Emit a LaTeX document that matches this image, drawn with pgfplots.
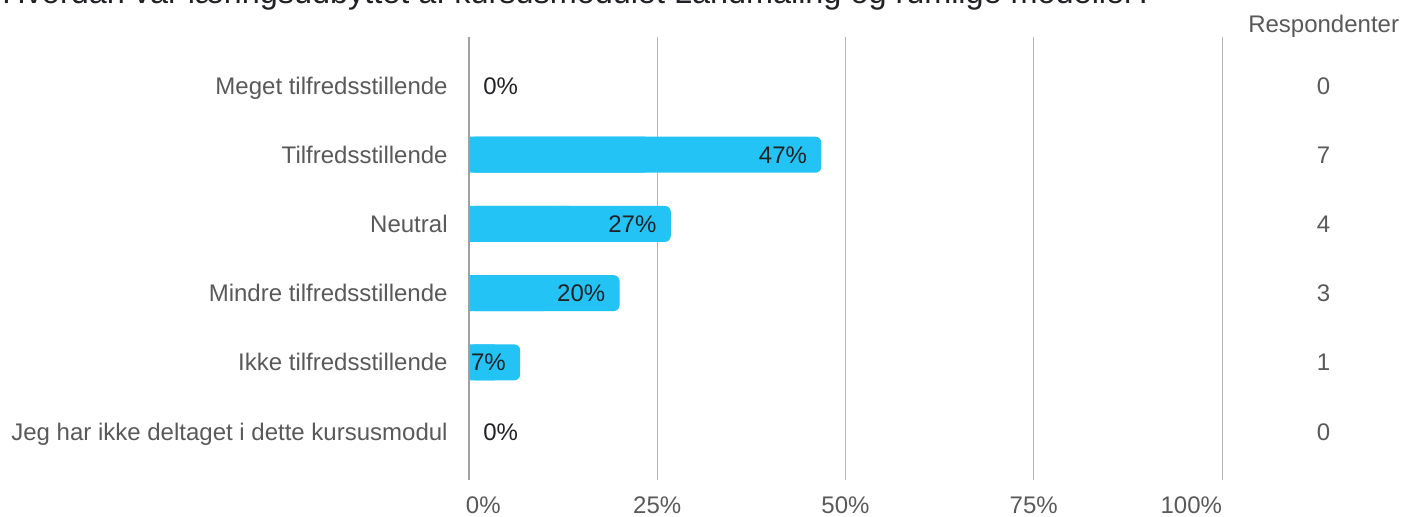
\documentclass[border=0pt]{standalone}
\usepackage{pgfplots}
\pgfplotsset{compat=1.18}
\usepackage{fontspec}
\setmainfont{Liberation Sans}
\definecolor{barc}{RGB}{35,196,245}
\definecolor{lab}{HTML}{595959}
\definecolor{txt}{HTML}{202124}
\definecolor{gridc}{HTML}{B4B4B4}
\definecolor{axc}{HTML}{A0A0A0}
\begin{document}
\begin{tikzpicture}
\begin{axis}[
  scale only axis,
  width=376.5pt, height=221.5pt,
  xmin=0, xmax=100, ymin=-0.7, ymax=5.7,
  y dir=reverse,
  clip=false,
  axis line style={draw=none},
  major tick length=0pt,
  xtick={0,25,50,75,100},
  xticklabels={\makebox[0pt][l]{\hspace{-1.5pt}0\%},25\%,50\%,75\%,\makebox[0pt][r]{100\%}},
  xmajorgrids,
  grid style={gridc, line width=0.5pt},
  ytick={0,1,2,3,4,5},
  yticklabels={Meget tilfredsstillende,Tilfredsstillende,Neutral,Mindre tilfredsstillende,Ikke tilfredsstillende,Jeg har ikke deltaget i dette kursusmodul},
  yticklabel style={anchor=base east, inner sep=0pt, xshift=-10.5pt, yshift=-4.3pt, font=\fontsize{12pt}{14pt}\selectfont, text=lab},
  xticklabel style={anchor=base, inner sep=0pt, yshift=-16.5pt, font=\fontsize{12pt}{14pt}\selectfont, text=lab},
  /pgf/number format/assume math mode=true,
]
% bars (rounded right ends)
\addplot[xbar, bar width=18pt, fill=barc, draw=none, rounded corners=3pt] coordinates {(46.8,1) (26.8,2) (20,3) (6.8,4)};
\addplot[xbar, bar width=18pt, fill=barc, draw=none] coordinates {(23.4,1) (13.4,2) (10,3) (3.4,4)};
% value labels inside bars
\addplot[draw=none, mark=none, point meta=explicit symbolic, nodes near coords,
  nodes near coords style={anchor=base east, inner sep=0pt, xshift=-7pt, yshift=-4.3pt, font=\fontsize{12pt}{14pt}\selectfont, text=txt}]
  coordinates {(46.8,1) [47\%] (26.8,2) [27\%] (20,3) [20\%] (6.8,4) [7\%]};
\addplot[draw=none, mark=none, point meta=explicit symbolic, nodes near coords,
  nodes near coords style={anchor=base west, inner sep=0pt, xshift=7pt, yshift=-4.3pt, font=\fontsize{12pt}{14pt}\selectfont, text=txt}]
  coordinates {(0,0) [0\%] (0,5) [0\%]};
% respondent counts
\addplot[draw=none, mark=none, point meta=explicit symbolic, nodes near coords,
  nodes near coords style={anchor=base, inner sep=0pt, yshift=-4.3pt, font=\fontsize{12pt}{14pt}\selectfont, text=lab}]
  coordinates {(113.5,0) [0] (113.5,1) [7] (113.5,2) [4] (113.5,3) [3] (113.5,4) [1] (113.5,5) [0]};
\draw[axc, line width=1pt] (axis cs:0,-0.7) -- (axis cs:0,5.7);
\node[anchor=base, inner sep=0pt, font=\fontsize{12pt}{14pt}\selectfont, text=lab] at (axis cs:113.5,-0.772) {Respondenter};
\end{axis}
\node[anchor=base west, inner sep=0pt, font=\fontsize{16.2pt}{19pt}\selectfont, text=txt] at (-233.5pt,238.25pt) {Hvordan var læringsudbyttet af kursusmodulet Landmåling og rumlige modeller?};
\pgfresetboundingbox
\path (-234.5pt,-18pt) rectangle (466pt,240pt);
\end{tikzpicture}
\end{document}
